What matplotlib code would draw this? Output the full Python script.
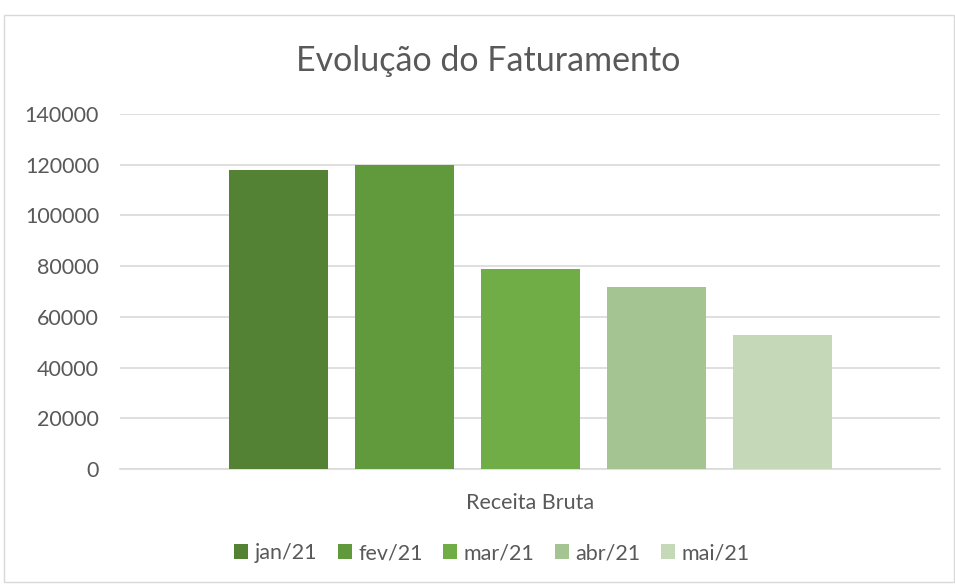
import numpy as np
import matplotlib
matplotlib.use('Agg')
import matplotlib.pyplot as plt
from matplotlib.patches import Rectangle

plt.rcParams['font.family'] = ['Lato', 'DejaVu Sans']

category = 'Receita Bruta'
months = ['jan/21', 'fev/21', 'mar/21', 'abr/21', 'mai/21']
values = [118000, 120000, 78900, 71800, 53000]
colors = ['#548235', '#609A3D', '#70AD47', '#A4C591', '#C5D9B9']

W, H = 955, 586
fig = plt.figure(figsize=(W / 100, H / 100), dpi=100)
fig.patch.set_facecolor('white')

# outer chart border
fig.patches.append(Rectangle((4 / W, 4 / H), 950 / W, (H - 19) / H,
                             transform=fig.transFigure, fill=False,
                             edgecolor='#D9D9D9', linewidth=1))

ax = fig.add_axes([120 / W, (H - 469) / H, 820 / W, 355 / H])
step = 1.0
width = 99 / 126
offsets = (np.arange(len(months)) - 2) * step
for i, (m, v) in enumerate(zip(months, values)):
    ax.bar(offsets[i], v, width=width, color=colors[i], label=m, zorder=3)

ax.set_xlim(-3.258, 3.25)
ax.set_ylim(0, 140000)
ax.set_yticks(np.arange(0, 140001, 20000))
ax.yaxis.grid(True, color='#D9D9D9', linewidth=1.2, zorder=0)
ax.set_xticks([0])
ax.set_xticklabels([category])
for s in ['top', 'right', 'left']:
    ax.spines[s].set_visible(False)
ax.spines['bottom'].set_color('#D9D9D9')
ax.spines['bottom'].set_linewidth(1.2)
ax.tick_params(axis='both', length=0, colors='#595959', labelsize=15.5)
ax.tick_params(axis='y', pad=15)
ax.tick_params(axis='x', pad=17)

fig.text(0.511, 1 - 61 / H, 'Evolução do Faturamento', ha='center', va='center',
         fontsize=24.5, color='#595959')

leg = fig.legend(loc='center', bbox_to_anchor=(492 / W, 1 - 553 / H), ncol=5,
                 frameon=False, fontsize=15.5, handlelength=0.65, handleheight=0.65,
                 handletextpad=0.3, columnspacing=0.95)
for t in leg.get_texts():
    t.set_color('#595959')

fig.savefig('out.png', dpi=100)
